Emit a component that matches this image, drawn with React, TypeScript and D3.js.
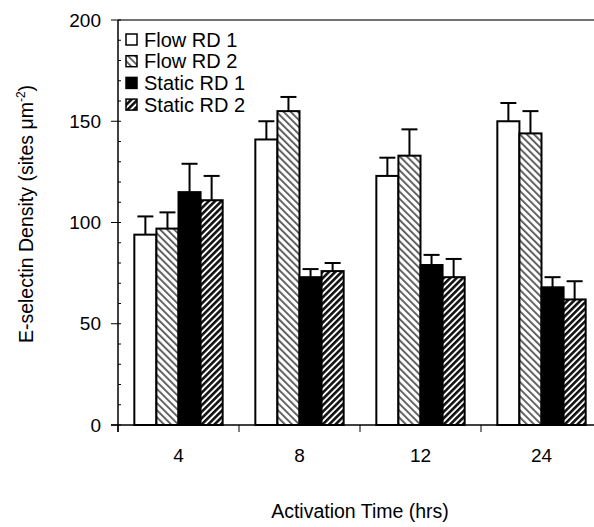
import React from "react";
import * as d3 from "d3";

const categories = ["4", "8", "12", "24"];
const seriesNames = ["Flow RD 1", "Flow RD 2", "Static RD 1", "Static RD 2"];
const flowRd1 = [94, 141, 123, 150];
const flowRd2 = [97, 155, 133, 144];
const staticRd1 = [115, 73, 79, 68];
const staticRd2 = [111, 76, 73, 62];
const flowRd1Err = [9, 9, 9, 9];
const flowRd2Err = [8, 7, 13, 11];
const staticRd1Err = [14, 4, 5, 5];
const staticRd2Err = [12, 4, 9, 9];
const yTicks = [0, 50, 100, 150, 200];

const values = [flowRd1, flowRd2, staticRd1, staticRd2];
const errors = [flowRd1Err, flowRd2Err, staticRd1Err, staticRd2Err];
const fills = ["#fff", "url(#hatchLight)", "#000", "url(#hatchDark)"];

const W = 594;
const H = 527;
const left = 118;
const right = 602;
const top = 20;
const bottom = 425;
const font = "'Liberation Sans', Arial, sans-serif";

export default function App() {
  const x0 = d3.scaleBand().domain(categories).range([left, right]).paddingInner(0.27).paddingOuter(0.135);
  const x1 = d3.scaleBand().domain(seriesNames).range([0, x0.bandwidth()]);
  const y = d3.scaleLinear().domain([0, 200]).range([bottom, top]);
  const minor = d3.range(0, 201, 10);
  const step = x0.step();
  const boundaries = d3.range(categories.length + 1).map((i) => left + i * step);

  return (
    <svg width={W} height={H} style={{ display: "block", position: "absolute", left: 0, top: 0 }}>
      <defs>
        <pattern id="hatchLight" width="5" height="5" patternUnits="userSpaceOnUse" patternTransform="rotate(-45)">
          <rect width="5" height="5" fill="#fff" />
          <rect x="0" width="1.8" height="5" fill="#555" />
        </pattern>
        <pattern id="hatchDark" width="4.5" height="4.5" patternUnits="userSpaceOnUse" patternTransform="rotate(45)">
          <rect width="4.5" height="4.5" fill="#fff" />
          <rect x="0" width="2.6" height="4.5" fill="#111" />
        </pattern>
      </defs>
      <rect width={W} height={H} fill="#fff" />

      {/* bars */}
      {categories.map((c, ci) => (
        <g key={c} transform={`translate(${x0(c)},0)`}>
          {seriesNames.map((s, si) => {
            const v = values[si][ci];
            const e = errors[si][ci];
            const bx = x1(s)!;
            const bw = x1.bandwidth();
            const cx = bx + bw / 2;
            return (
              <g key={s}>
                <line x1={cx} x2={cx} y1={y(v)} y2={y(v + e)} stroke="#000" strokeWidth={2} />
                <line x1={cx - 8} x2={cx + 8} y1={y(v + e)} y2={y(v + e)} stroke="#000" strokeWidth={2} />
                <rect x={bx} y={y(v)} width={bw} height={bottom - y(v)} fill={fills[si]} stroke="#000" strokeWidth={2} />
              </g>
            );
          })}
        </g>
      ))}

      {/* frame top */}
      <line x1={left} x2={W} y1={top} y2={top} stroke="#444" strokeWidth={1.5} />

      {/* y axis */}
      <line x1={left} x2={left} y1={top} y2={bottom + 7} stroke="#000" strokeWidth={1.5} />
      {minor.map((t) => (
        <line key={"m" + t} x1={left} x2={left + 3} y1={y(t)} y2={y(t)} stroke="#000" strokeWidth={1} />
      ))}
      {yTicks.map((t) => (
        <g key={t}>
          <line x1={left - 7} x2={left} y1={y(t)} y2={y(t)} stroke="#000" strokeWidth={1} />
          <text x={left - 17} y={y(t)} dy="0.35em" textAnchor="end" fontFamily={font} fontSize={19}>
            {t}
          </text>
        </g>
      ))}

      {/* x axis */}
      <line x1={left - 7} x2={right} y1={bottom} y2={bottom} stroke="#000" strokeWidth={1.5} />
      {boundaries.map((b) => (
        <line key={b} x1={b} x2={b} y1={bottom} y2={bottom + 7} stroke="#000" strokeWidth={1} />
      ))}
      {categories.map((c) => (
        <text key={c} x={x0(c)! + x0.bandwidth() / 2} y={462} textAnchor="middle" fontFamily={font} fontSize={19}>
          {c}
        </text>
      ))}

      {/* axis titles */}
      <text x={360} y={518} textAnchor="middle" fontFamily={font} fontSize={19.5}>
        Activation Time (hrs)
      </text>
      <text transform={`translate(33,214) rotate(-90)`} textAnchor="middle" fontFamily={font} fontSize={19.5}>
        E-selectin Density (sites μm<tspan dy="-8" fontSize={12}>-2</tspan><tspan dy="8">)</tspan>
      </text>

      {/* legend */}
      {seriesNames.map((s, i) => {
        const ly = 39.5 + i * 21.7;
        return (
          <g key={s}>
            <rect x={126} y={ly - 5.5} width={11} height={11} fill={fills[i]} stroke="#000" strokeWidth={1.5} />
            <text x={144} y={ly} dy="0.36em" fontFamily={font} fontSize={20}>
              {s}
            </text>
          </g>
        );
      })}
    </svg>
  );
}
